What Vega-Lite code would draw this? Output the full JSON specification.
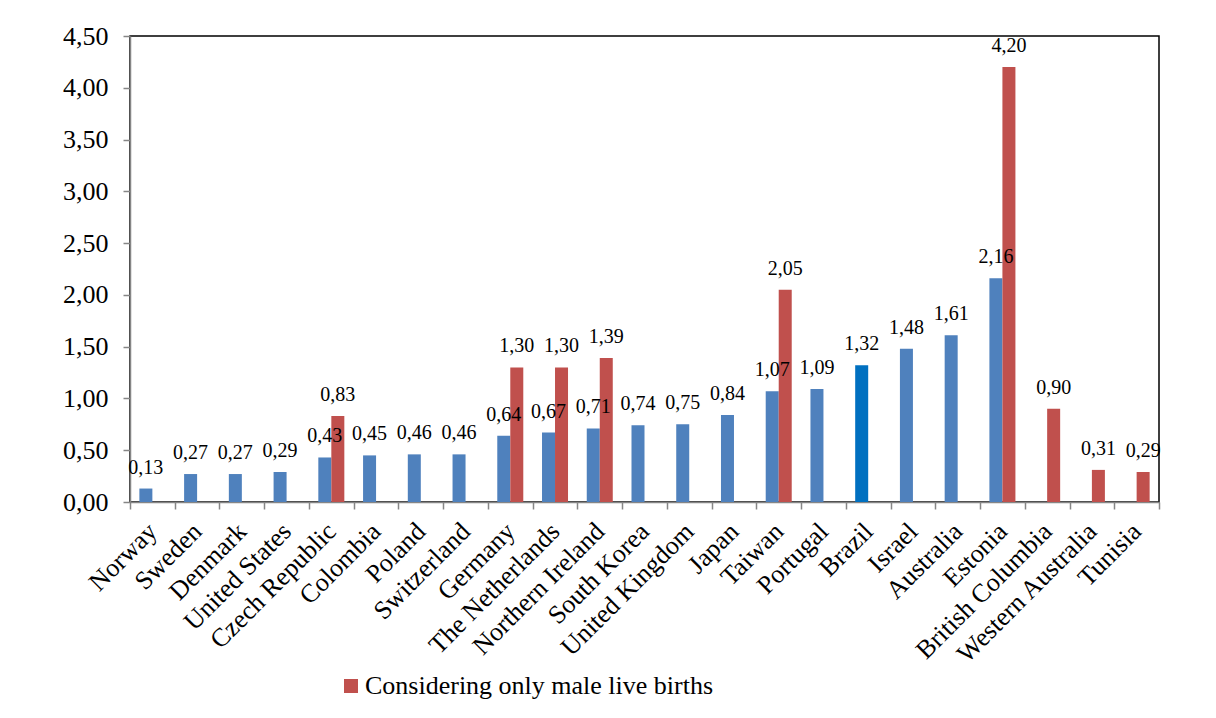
{
  "$schema": "https://vega.github.io/schema/vega-lite/v6.json",
  "autosize": "none",
  "width": 1029,
  "height": 466,
  "padding": {"left": 130, "top": 36, "right": 57, "bottom": 216},
  "background": "white",
  "config": {
    "locale": {"number": {"decimal": ",", "thousands": ".", "grouping": [3], "currency": ["", ""]}},
    "view": {"stroke": "#000000", "strokeWidth": 1.5},
    "font": "Liberation Serif"
  },
  "data": {
    "values": [
      {"country": "Norway", "series": "all", "group": "All live births", "value": 0.13},
      {"country": "Sweden", "series": "all", "group": "All live births", "value": 0.27},
      {"country": "Denmark", "series": "all", "group": "All live births", "value": 0.27},
      {"country": "United States", "series": "all", "group": "All live births", "value": 0.29},
      {"country": "Czech Republic", "series": "all", "group": "All live births", "value": 0.43},
      {"country": "Czech Republic", "series": "male", "group": "Considering only male live births", "value": 0.83},
      {"country": "Colombia", "series": "all", "group": "All live births", "value": 0.45},
      {"country": "Poland", "series": "all", "group": "All live births", "value": 0.46},
      {"country": "Switzerland", "series": "all", "group": "All live births", "value": 0.46},
      {"country": "Germany", "series": "all", "group": "All live births", "value": 0.64},
      {"country": "Germany", "series": "male", "group": "Considering only male live births", "value": 1.30},
      {"country": "The Netherlands", "series": "all", "group": "All live births", "value": 0.67},
      {"country": "The Netherlands", "series": "male", "group": "Considering only male live births", "value": 1.30},
      {"country": "Northern Ireland", "series": "all", "group": "All live births", "value": 0.71},
      {"country": "Northern Ireland", "series": "male", "group": "Considering only male live births", "value": 1.39},
      {"country": "South Korea", "series": "all", "group": "All live births", "value": 0.74},
      {"country": "United Kingdom", "series": "all", "group": "All live births", "value": 0.75},
      {"country": "Japan", "series": "all", "group": "All live births", "value": 0.84},
      {"country": "Taiwan", "series": "all", "group": "All live births", "value": 1.07},
      {"country": "Taiwan", "series": "male", "group": "Considering only male live births", "value": 2.05},
      {"country": "Portugal", "series": "all", "group": "All live births", "value": 1.09},
      {"country": "Brazil", "series": "all", "group": "Brazil", "value": 1.32},
      {"country": "Israel", "series": "all", "group": "All live births", "value": 1.48},
      {"country": "Australia", "series": "all", "group": "All live births", "value": 1.61},
      {"country": "Estonia", "series": "all", "group": "All live births", "value": 2.16},
      {"country": "Estonia", "series": "male", "group": "Considering only male live births", "value": 4.20},
      {"country": "British Columbia", "series": "male", "group": "Considering only male live births", "value": 0.90},
      {"country": "Western Australia", "series": "male", "group": "Considering only male live births", "value": 0.31},
      {"country": "Tunisia", "series": "male", "group": "Considering only male live births", "value": 0.29}
    ]
  },
  "encoding": {
    "x": {
      "field": "country",
      "type": "nominal",
      "sort": null,
      "scale": {"paddingInner": 0, "paddingOuter": 0},
      "axis": {
        "title": null,
        "tickBand": "extent",
        "domainColor": "#868686",
        "domainWidth": 1.5,
        "tickColor": "#868686",
        "tickWidth": 1.5,
        "tickSize": 7,
        "labelAngle": -45,
        "labelAlign": "right",
        "labelBaseline": "middle",
        "labelFont": "Liberation Serif",
        "labelFontSize": 26,
        "labelColor": "#000000",
        "labelPadding": 18,
        "labelLimit": 400,
        "labelOverlap": false
      }
    },
    "xOffset": {
      "field": "series",
      "type": "nominal",
      "scale": {"domain": ["all", "male"], "paddingInner": 0, "paddingOuter": 0.72}
    },
    "y": {
      "field": "value",
      "type": "quantitative",
      "scale": {"domain": [0, 4.5], "nice": false},
      "axis": {
        "title": null,
        "values": [0, 0.5, 1, 1.5, 2, 2.5, 3, 3.5, 4, 4.5],
        "format": ".2f",
        "grid": false,
        "domainColor": "#868686",
        "domainWidth": 1.5,
        "tickColor": "#868686",
        "tickWidth": 1.5,
        "tickSize": 7,
        "labelFont": "Liberation Serif",
        "labelFontSize": 26,
        "labelColor": "#000000",
        "labelPadding": 15
      }
    }
  },
  "layer": [
    {
      "mark": {"type": "bar"},
      "encoding": {
        "color": {
          "field": "group",
          "type": "nominal",
          "scale": {
            "domain": ["All live births", "Brazil", "Considering only male live births"],
            "range": ["#4F81BD", "#0070C0", "#C0504D"]
          },
          "legend": {
            "values": ["Considering only male live births"],
            "title": null,
            "orient": "none",
            "legendX": 208,
            "legendY": 637,
            "symbolType": "square",
            "symbolSize": 196,
            "symbolStrokeWidth": 0,
            "labelFont": "Liberation Serif",
            "labelFontSize": 26,
            "labelColor": "#000000",
            "labelOffset": 1,
            "labelLimit": 600
          }
        }
      }
    },
    {
      "mark": {"type": "text", "baseline": "alphabetic", "dy": -15, "fontSize": 20, "font": "Liberation Serif", "color": "#000000"},
      "encoding": {
        "text": {"field": "value", "type": "quantitative", "format": ".2f"}
      }
    }
  ]
}
